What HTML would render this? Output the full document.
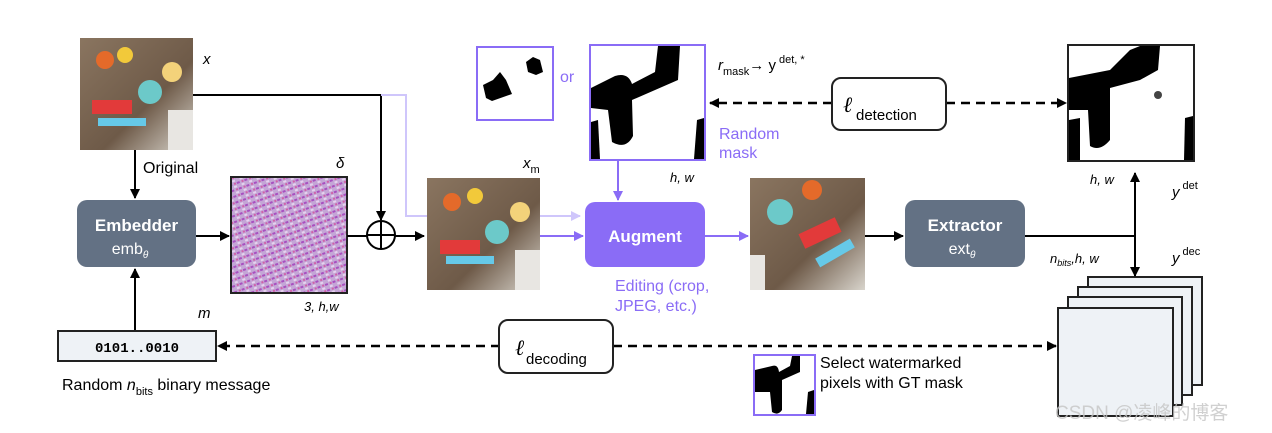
<!DOCTYPE html>
<html><head><meta charset="utf-8"><style>
html,body{margin:0;padding:0;background:#fff;}
svg{display:block;font-family:"Liberation Sans","Noto Sans CJK SC",sans-serif;}
</style></head><body>
<svg width="1272" height="433" viewBox="0 0 1272 433" xmlns="http://www.w3.org/2000/svg">
<defs>
<marker id="ab" markerWidth="10" markerHeight="10" refX="9" refY="5" orient="auto" markerUnits="userSpaceOnUse"><path d="M0,0 L10,5 L0,10 z" fill="#000"/></marker>
<marker id="ap" markerWidth="10" markerHeight="10" refX="9" refY="5" orient="auto" markerUnits="userSpaceOnUse"><path d="M0,0 L10,5 L0,10 z" fill="#8a6cf6"/></marker>
<marker id="al" markerWidth="10" markerHeight="10" refX="9" refY="5" orient="auto" markerUnits="userSpaceOnUse"><path d="M0,0 L10,5 L0,10 z" fill="#cfc6fb"/></marker>
<linearGradient id="wood" x1="0" y1="0" x2="1" y2="1"><stop offset="0" stop-color="#8a7560"/><stop offset="0.6" stop-color="#6e5a48"/><stop offset="1" stop-color="#d8d4cc"/></linearGradient>
<pattern id="noise" width="8" height="6" patternUnits="userSpaceOnUse" patternTransform="rotate(-20)"><rect width="8" height="6" fill="#c4a6d6"/><rect x="0" y="0" width="3" height="2" fill="#a84fc0"/><rect x="4" y="3" width="3" height="2" fill="#e6d2ee"/><rect x="5" y="0" width="2" height="2" fill="#d060a8"/></pattern>
</defs>

<g>
<rect x="80" y="38" width="113" height="112" fill="url(#wood)"/>
<circle cx="105" cy="60" r="9" fill="#e46a2a"/><circle cx="125" cy="55" r="8" fill="#f2c93a"/>
<circle cx="150" cy="92" r="12" fill="#6cc9c9"/><circle cx="172" cy="72" r="10" fill="#f3d27a"/>
<rect x="92" y="100" width="40" height="14" fill="#e23a3a"/><rect x="98" y="118" width="48" height="8" fill="#66c9e8"/>
<rect x="168" y="110" width="25" height="40" fill="#e8e6e2"/>
</g>
<text x="203" y="64" font-size="15" font-style="italic">x</text>

<polyline points="193,95 381,95 381,220" fill="none" stroke="#000" stroke-width="2" marker-end="url(#ab)"/>
<polyline points="381,95 406,95 406,216 580,216" fill="none" stroke="#cfc6fb" stroke-width="2" marker-end="url(#al)"/>
<line x1="135" y1="150" x2="135" y2="198" stroke="#000" stroke-width="2" marker-end="url(#ab)"/>
<text x="143" y="173" font-size="16">Original</text>

<rect x="77" y="200" width="119" height="67" rx="10" fill="#637184"/>
<text x="136.5" y="231" font-size="17" font-weight="bold" fill="#fff" text-anchor="middle">Embedder</text>
<text x="130" y="254" font-size="16" fill="#fff" text-anchor="middle">emb<tspan font-size="10" font-style="italic" dy="4">θ</tspan></text>
<line x1="196" y1="236" x2="229" y2="236" stroke="#000" stroke-width="2" marker-end="url(#ab)"/>
<line x1="135" y1="331" x2="135" y2="269" stroke="#000" stroke-width="2" marker-end="url(#ab)"/>

<rect x="231" y="177" width="116" height="116" fill="url(#noise)" stroke="#222" stroke-width="2"/>
<text x="336" y="168" font-size="15" font-style="italic">δ</text>
<text x="304" y="311" font-size="13" font-style="italic">3, h,w</text>

<line x1="347" y1="236" x2="424" y2="236" stroke="#000" stroke-width="2" marker-end="url(#ab)"/>
<circle cx="381" cy="235" r="14" fill="#fff" stroke="#000" stroke-width="2"/>
<line x1="367" y1="235" x2="395" y2="235" stroke="#000" stroke-width="2"/>
<line x1="381" y1="221" x2="381" y2="249" stroke="#000" stroke-width="2"/>

<g>
<rect x="427" y="178" width="113" height="112" fill="url(#wood)"/>
<circle cx="452" cy="202" r="9" fill="#e46a2a"/><circle cx="475" cy="196" r="8" fill="#f2c93a"/>
<circle cx="497" cy="232" r="12" fill="#6cc9c9"/><circle cx="520" cy="212" r="10" fill="#f3d27a"/>
<rect x="440" y="240" width="40" height="14" fill="#e23a3a"/><rect x="446" y="256" width="48" height="8" fill="#66c9e8"/>
<rect x="515" y="250" width="25" height="40" fill="#e8e6e2"/>
</g>
<text x="523" y="168" font-size="15" font-style="italic">x<tspan font-size="11" font-style="normal" dy="5">m</tspan></text>
<line x1="540" y1="236" x2="583" y2="236" stroke="#8a6cf6" stroke-width="2" marker-end="url(#ap)"/>

<rect x="477" y="47" width="76" height="73" fill="#fff" stroke="#8a6cf6" stroke-width="2"/>
<path d="M483,85 L493,80 L500,72 L506,80 L512,94 L492,101 L486,98 z" fill="#000"/>
<path d="M526,62 L533,57 L540,60 L543,72 L536,75 L528,72 z" fill="#000"/>
<text x="560" y="82" font-size="16" fill="#8a6cf6">or</text>

<rect x="590" y="45" width="115" height="115" fill="#fff" stroke="#8a6cf6" stroke-width="2"/>
<path d="M591,88 L615,76 Q628,72 632,84 L655,72 L658,46 L680,46 L678,80 L632,100 L633,136 Q626,150 612,142 L608,110 L591,108 z" fill="#000"/>
<path d="M591,122 L598,120 L600,159 L591,159 z" fill="#000"/>
<path d="M697,120 L704,118 L704,159 L694,159 z" fill="#000"/>
<text x="670" y="182" font-size="13" font-style="italic">h, w</text>
<text x="719" y="139" font-size="16" fill="#8a6cf6">Random</text>
<text x="719" y="158" font-size="16" fill="#8a6cf6">mask</text>
<line x1="618" y1="160" x2="618" y2="200" stroke="#8a6cf6" stroke-width="2" marker-end="url(#ap)"/>
<text x="718" y="70" font-size="15" font-style="italic">r<tspan font-size="11" font-style="normal" dy="5">mask</tspan><tspan dy="-5" font-style="normal">→ y</tspan><tspan font-size="11" font-style="normal" dy="-7"> det, *</tspan></text>

<rect x="585" y="202" width="120" height="65" rx="10" fill="#8a6cf6"/>
<text x="645" y="242" font-size="17" font-weight="bold" fill="#fff" text-anchor="middle">Augment</text>
<text x="615" y="291" font-size="16" fill="#8a6cf6">Editing (crop,</text>
<text x="615" y="311" font-size="16" fill="#8a6cf6">JPEG, etc.)</text>
<line x1="705" y1="236" x2="748" y2="236" stroke="#8a6cf6" stroke-width="2" marker-end="url(#ap)"/>

<g>
<rect x="750" y="178" width="115" height="112" fill="url(#wood)"/>
<circle cx="780" cy="212" r="13" fill="#6cc9c9"/><circle cx="812" cy="190" r="10" fill="#e46a2a"/>
<rect x="800" y="225" width="40" height="16" fill="#e23a3a" transform="rotate(-25 820 233)"/>
<rect x="815" y="248" width="40" height="10" fill="#66c9e8" transform="rotate(-30 835 253)"/>
<rect x="750" y="255" width="15" height="35" fill="#e8e6e2"/>
</g>
<line x1="865" y1="236" x2="903" y2="236" stroke="#000" stroke-width="2" marker-end="url(#ab)"/>

<rect x="905" y="200" width="120" height="67" rx="10" fill="#637184"/>
<text x="965" y="231" font-size="17" font-weight="bold" fill="#fff" text-anchor="middle">Extractor</text>
<text x="962" y="254" font-size="16" fill="#fff" text-anchor="middle">ext<tspan font-size="10" font-style="italic" dy="4">θ</tspan></text>
<polyline points="1025,236 1135,236" fill="none" stroke="#000" stroke-width="2"/>
<line x1="1135" y1="236" x2="1135" y2="173" stroke="#000" stroke-width="2" marker-end="url(#ab)"/>
<text x="1090" y="184" font-size="13" font-style="italic">h, w</text>
<text x="1172" y="197" font-size="15" font-style="italic">y<tspan font-size="11" font-style="normal" dy="-8"> det</tspan></text>
<text x="1050" y="263" font-size="13" font-style="italic">n<tspan font-size="9" dy="3">bits</tspan><tspan dy="-3">,h, w</tspan></text>
<text x="1172" y="263" font-size="15" font-style="italic">y<tspan font-size="11" font-style="normal" dy="-8"> dec</tspan></text>

<rect x="1068" y="45" width="126" height="116" fill="#fff" stroke="#222" stroke-width="2"/>
<path d="M1069,78 L1110,70 L1130,50 L1140,46 L1160,46 L1158,70 L1140,80 L1110,88 L1110,140 Q1100,152 1090,146 L1088,110 L1069,110 z" fill="#000"/>
<path d="M1069,120 L1080,118 L1080,160 L1069,160 z" fill="#000"/>
<path d="M1185,118 L1193,116 L1193,160 L1184,160 z" fill="#000"/>
<circle cx="1158" cy="95" r="4" fill="#444"/>

<line x1="832" y1="103" x2="710" y2="103" stroke="#000" stroke-width="2.5" stroke-dasharray="9,6" marker-end="url(#ab)"/>
<line x1="946" y1="103" x2="1066" y2="103" stroke="#000" stroke-width="2.5" stroke-dasharray="9,6" marker-end="url(#ab)"/>
<rect x="832" y="78" width="114" height="52" rx="9" fill="#fff" stroke="#222" stroke-width="2"/>
<text x="843" y="112" font-size="22" font-style="italic" font-family="Liberation Serif,serif">ℓ</text>
<text x="856" y="120" font-size="15">detection</text>

<rect x="1088" y="277" width="114" height="108" fill="#eef2f6" stroke="#222" stroke-width="2"/>
<rect x="1078" y="287" width="114" height="108" fill="#eef2f6" stroke="#222" stroke-width="2"/>
<rect x="1068" y="297" width="114" height="108" fill="#eef2f6" stroke="#222" stroke-width="2"/>
<rect x="1058" y="308" width="115" height="108" fill="#eef2f6" stroke="#222" stroke-width="2"/>
<line x1="1135" y1="236" x2="1135" y2="276" stroke="#000" stroke-width="2" marker-end="url(#ab)"/>

<line x1="500" y1="346" x2="218" y2="346" stroke="#000" stroke-width="2.5" stroke-dasharray="9,6" marker-end="url(#ab)"/>
<line x1="613" y1="346" x2="1056" y2="346" stroke="#000" stroke-width="2.5" stroke-dasharray="9,6" marker-end="url(#ab)"/>
<rect x="499" y="320" width="114" height="53" rx="9" fill="#fff" stroke="#222" stroke-width="2"/>
<text x="515" y="355" font-size="22" font-style="italic" font-family="Liberation Serif,serif">ℓ</text>
<text x="526" y="364" font-size="15">decoding</text>

<rect x="58" y="331" width="158" height="30" fill="#eef2f6" stroke="#222" stroke-width="2"/>
<text x="137" y="352" font-size="14" font-family="Liberation Mono,monospace" font-weight="bold" text-anchor="middle">0101..0010</text>
<text x="198" y="318" font-size="15" font-style="italic">m</text>
<text x="62" y="390" font-size="16">Random <tspan font-style="italic">n</tspan><tspan font-size="11" dy="5">bits</tspan><tspan dy="-5"> binary message</tspan></text>

<rect x="754" y="355" width="61" height="60" fill="#fff" stroke="#8a6cf6" stroke-width="2"/>
<path d="M755,370 L772,366 Q778,364 779,372 L790,366 L792,356 L800,356 L800,372 L782,380 L782,410 Q778,416 772,412 L770,392 L755,392 z" fill="#000"/>
<path d="M808,392 L814,390 L814,414 L806,414 z" fill="#000"/>
<text x="820" y="368" font-size="16">Select watermarked</text>
<text x="820" y="388" font-size="16">pixels with GT mask</text>

<text x="1055" y="419" font-size="19" fill="#c4c4c4" fill-opacity="0.8">CSDN @凌峰的博客</text>
</svg>
</body></html>
